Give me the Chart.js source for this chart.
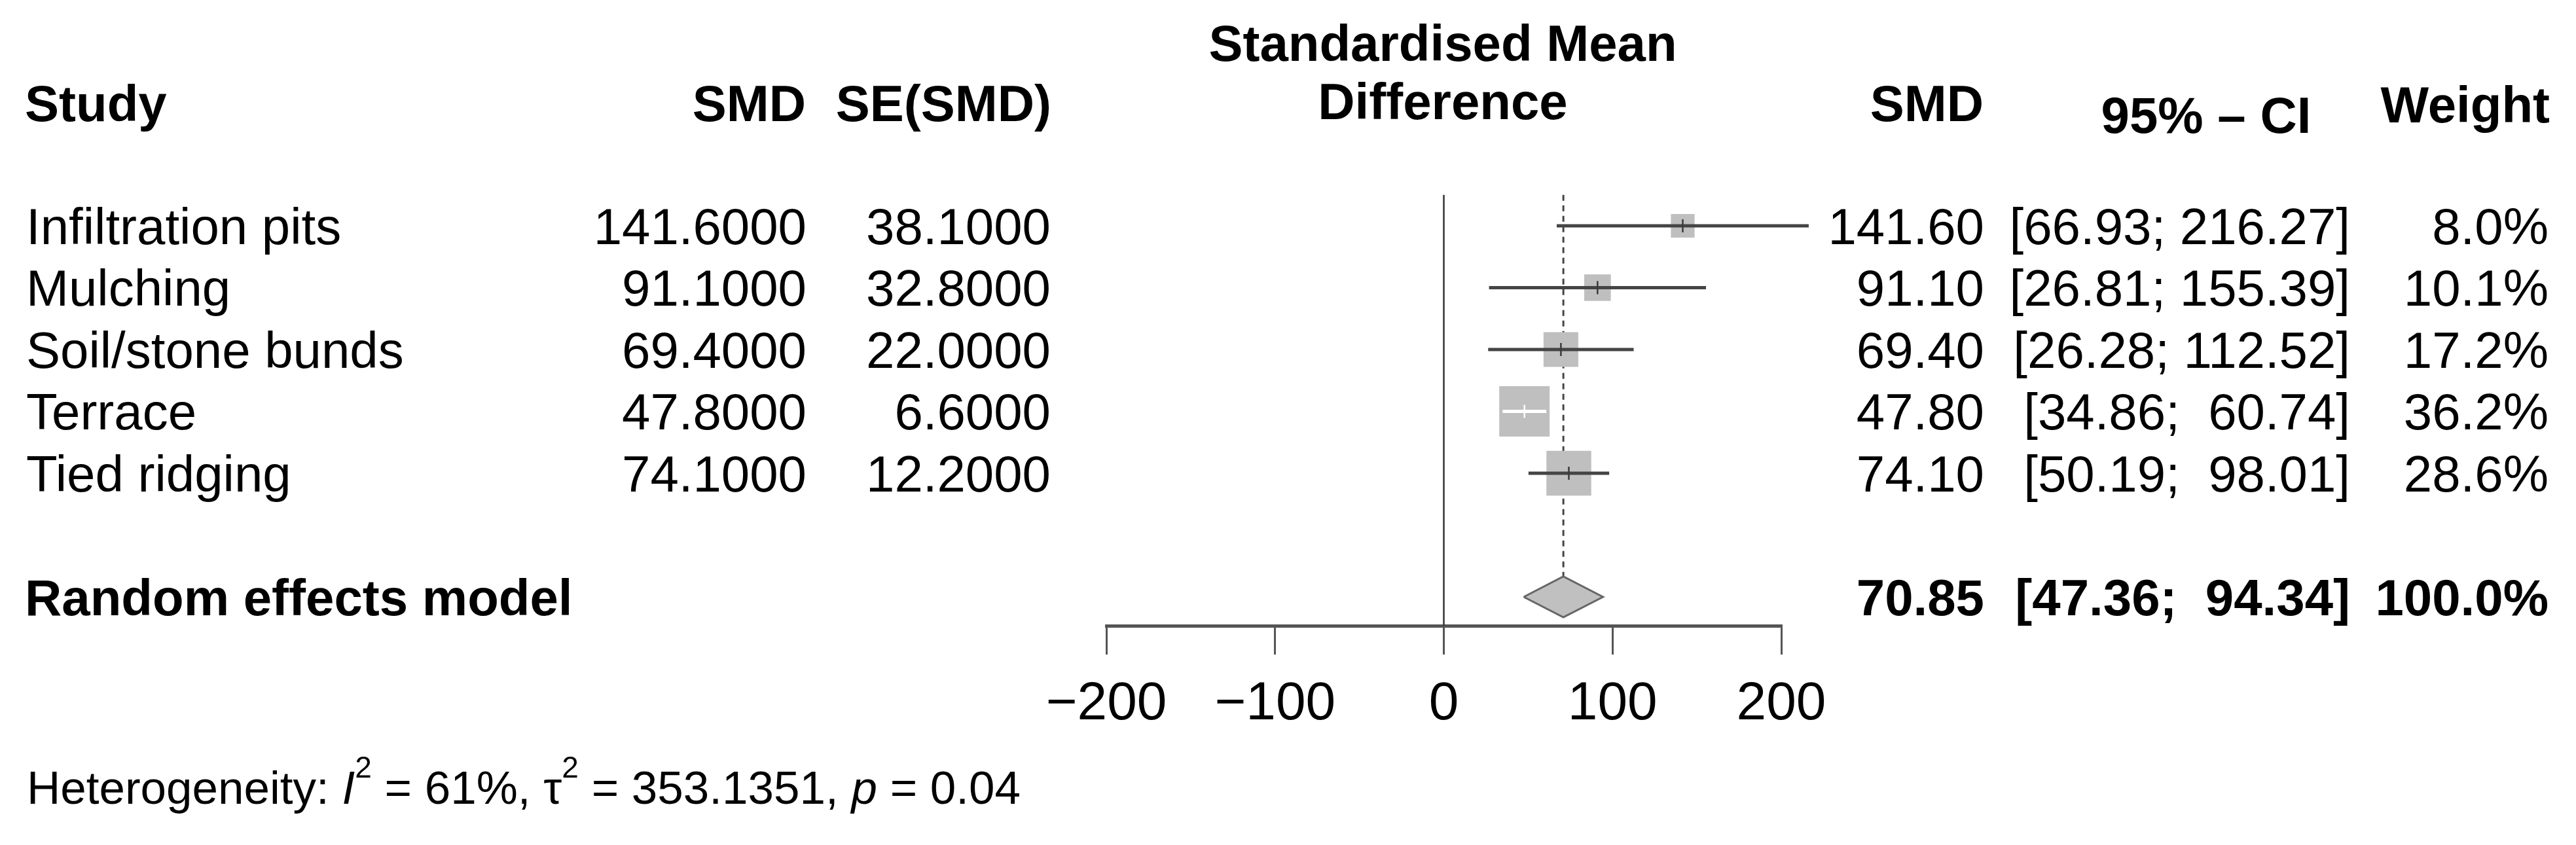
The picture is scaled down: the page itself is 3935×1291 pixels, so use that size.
<!DOCTYPE html>
<html>
<head>
<meta charset="utf-8">
<title>Forest plot - Standardised Mean Difference</title>
<script src="https://cdn.jsdelivr.net/npm/chart.js@4.4.1/dist/chart.umd.min.js"></script>
<style>
  html, body { margin: 0; padding: 0; background: #fff; }
  #forest { display: block; }
</style>
</head>
<body>
<canvas id="forest" width="3935" height="1291"></canvas>
<script>
// dados do forest plot
const studies = ['Infiltration pits', 'Mulching', 'Soil/stone bunds', 'Terrace', 'Tied ridging'];
const smd = [141.6, 91.1, 69.4, 47.8, 74.1];
const seSmd = [38.1, 32.8, 22.0, 6.6, 12.2];
const ciLower = [66.93, 26.81, 26.28, 34.86, 50.19];
const ciUpper = [216.27, 155.39, 112.52, 60.74, 98.01];
const weights = [8.0, 10.1, 17.2, 36.2, 28.6];

const pooledLabel = 'Random effects model';
const pooledSmd = 70.85;
const pooledCi = [47.36, 94.34];
const pooledWeight = 100.0;

const xTicks = [-200, -100, 0, 100, 200];
const i2 = 61;
const tau2 = 353.1351;
const pHet = 0.04;

// layout
const FONT = "'Liberation Sans', Arial, Helvetica, sans-serif";
const FS = 78;
const BASE = 28;            // baseline abaixo do centro da linha
const AXIS_ROW = 6.466;     // onde fica o eixo x (unidades de linha)
const TOP_ROW = -0.5;       // topo das linhas verticais
const DIAMOND_H = 0.33;
const pooledRow = studies.length + 1;

const squareSide = w => 12.8 * Math.sqrt(w);
const inside = (chart, i) => {
    const x = chart.scales.x;
    return x.getPixelForValue(ciUpper[i]) - x.getPixelForValue(ciLower[i]) <= squareSide(weights[i]);
};

// formata o IC como no pacote meta
const loW = Math.max(...ciLower.concat(pooledCi[0]).map(v => v.toFixed(2).length));
const hiW = Math.max(...ciUpper.concat(pooledCi[1]).map(v => v.toFixed(2).length));
const ciText = (lo, hi) => '[' + lo.toFixed(2).padStart(loW) + '; ' + hi.toFixed(2).padStart(hiW) + ']';

const datasets = [];

// marcador vertical da estimativa
datasets.push({
    type: 'scatter',
    data: smd.map((v, i) => ({x: v, y: i})),
    pointStyle: 'line',
    rotation: 90,
    pointRadius: 10,
    borderWidth: 2.5,
    borderColor: ctx => inside(ctx.chart, ctx.dataIndex) ? '#ffffff' : '#3a3a3a',
    clip: false,
    order: 0
});

// intervalos de confiança
studies.forEach((s, i) => {
    datasets.push({
        type: 'line',
        data: [{x: ciLower[i], y: i}, {x: ciUpper[i], y: i}],
        borderColor: ctx => inside(ctx.chart, i) ? '#ffffff' : '#444444',
        borderWidth: 5,
        pointRadius: 0,
        clip: false,
        order: 1
    });
});

// quadrados proporcionais ao peso
datasets.push({
    type: 'scatter',
    data: smd.map((v, i) => ({x: v, y: i})),
    pointStyle: 'rect',
    pointRadius: ctx => squareSide(weights[ctx.dataIndex]) / Math.SQRT2,
    backgroundColor: '#bfbfbf',
    borderWidth: 0,
    clip: false,
    order: 3
});

// diamante do modelo de efeitos aleatórios
datasets.push({
    type: 'line',
    data: [
        {x: pooledCi[0], y: pooledRow},
        {x: pooledSmd, y: pooledRow - DIAMOND_H},
        {x: pooledCi[1], y: pooledRow},
        {x: pooledSmd, y: pooledRow + DIAMOND_H},
        {x: pooledCi[0], y: pooledRow}
    ],
    fill: 'shape',
    backgroundColor: '#c0c0c0',
    borderColor: '#666666',
    borderWidth: 3,
    pointRadius: 0,
    tension: 0,
    order: 2
});

// linha tracejada na estimativa combinada
datasets.push({
    type: 'line',
    data: [{x: pooledSmd, y: TOP_ROW}, {x: pooledSmd, y: pooledRow - DIAMOND_H}],
    borderColor: '#444444',
    borderWidth: 3,
    borderDash: [9, 7],
    pointRadius: 0,
    order: 4
});

// linha de nenhum efeito
datasets.push({
    type: 'line',
    data: [{x: 0, y: TOP_ROW}, {x: 0, y: AXIS_ROW}],
    borderColor: '#333333',
    borderWidth: 2.5,
    pointRadius: 0,
    order: 5
});

// textos da tabela
const textPlugin = {
    id: 'forestText',
    afterDraw(chart) {
        const {ctx} = chart;
        const y = chart.scales.y;
        const rowY = i => y.getPixelForValue(i) + BASE;
        const put = (txt, x, yy, align, bold) => {
            ctx.font = (bold ? 'bold ' : '') + FS + 'px ' + FONT;
            ctx.textAlign = align;
            ctx.fillText(txt, x, yy);
        };
        ctx.save();
        ctx.fillStyle = '#000';
        ctx.textBaseline = 'alphabetic';

        // cabeçalhos
        put('Study', 38, 185, 'left', true);
        put('SMD', 1231, 185, 'right', true);
        put('SE(SMD)', 1606, 185, 'right', true);
        put('Standardised Mean', 2204, 93, 'center', true);
        put('Difference', 2204, 182, 'center', true);
        put('SMD', 3030, 185, 'right', true);
        put('95% \u2013 CI', 3370, 203, 'center', true);
        put('Weight', 3895, 187, 'right', true);

        studies.forEach((s, i) => {
            const yy = rowY(i);
            put(s, 40, yy, 'left', false);
            put(smd[i].toFixed(4), 1232, yy, 'right', false);
            put(seSmd[i].toFixed(4), 1605, yy, 'right', false);
            put(smd[i].toFixed(2), 3031, yy, 'right', false);
            put(ciText(ciLower[i], ciUpper[i]), 3590, yy, 'right', false);
            put(weights[i].toFixed(1) + '%', 3893, yy, 'right', false);
        });

        const py = rowY(pooledRow);
        put(pooledLabel, 38, py, 'left', true);
        put(pooledSmd.toFixed(2), 3031, py, 'right', true);
        put(ciText(pooledCi[0], pooledCi[1]), 3590, py, 'right', true);
        put(pooledWeight.toFixed(1) + '%', 3893, py, 'right', true);

        // heterogeneidade
        let hx = 41;
        const hy = 1228;
        const hs = 71, sup = 46;
        const piece = (txt, style, size, dy) => {
            ctx.font = style + ' ' + size + 'px ' + FONT;
            ctx.textAlign = 'left';
            ctx.fillText(txt, hx, hy + dy);
            hx += ctx.measureText(txt).width;
        };
        piece('Heterogeneity: ', 'normal', hs, 0);
        piece('I', 'italic', hs, 0);
        piece('2', 'normal', sup, -40);
        piece(' = ' + i2 + '%, ', 'normal', hs, 0);
        piece('\u03C4', 'normal', hs, 0);
        piece('2', 'normal', sup, -40);
        piece(' = ' + tau2.toFixed(4) + ', ', 'normal', hs, 0);
        piece('p', 'italic', hs, 0);
        piece(' = ' + pHet.toFixed(2), 'normal', hs, 0);
        ctx.restore();
    }
};

new Chart(document.getElementById('forest'), {
    type: 'scatter',
    data: { datasets },
    options: {
        responsive: false,
        animation: false,
        devicePixelRatio: 1,
        layout: {
            autoPadding: false,
            padding: { left: 1690, right: 1214, top: 0, bottom: 0 }
        },
        plugins: {
            legend: { display: false },
            tooltip: { enabled: false }
        },
        scales: {
            x: {
                type: 'linear',
                position: 'bottom',
                min: xTicks[0],
                max: xTicks[xTicks.length - 1],
                afterFit: scale => { scale.height = 1291 - 956; },
                afterBuildTicks: scale => { scale.ticks = xTicks.map(v => ({value: v})); },
                ticks: {
                    font: { family: FONT, size: 82 },
                    color: '#000',
                    padding: 27,
                    maxRotation: 0,
                    autoSkip: false,
                    callback: v => String(v).replace('-', '\u2212')
                },
                grid: {
                    drawOnChartArea: false,
                    drawTicks: true,
                    tickLength: 44,
                    color: '#555555',
                    lineWidth: 3
                },
                border: { display: true, color: '#555555', width: 5 }
            },
            y: {
                type: 'linear',
                display: false,
                reverse: true,
                min: -3.651,
                max: AXIS_ROW
            }
        }
    },
    plugins: [textPlugin]
});
</script>
</body>
</html>
